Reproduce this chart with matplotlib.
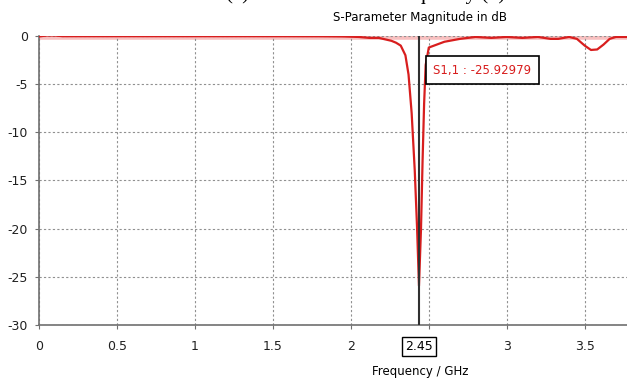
import matplotlib.pyplot as plt
import numpy as np

plt.rcParams['font.family'] = ['Liberation Sans Narrow', 'DejaVu Sans']

# S11 (GHz, dB)
freq = [0.0, 0.05, 0.1, 0.15, 0.3, 0.6, 1.0, 1.4, 1.8, 1.95, 2.05, 2.12, 2.18,
        2.22, 2.26, 2.29, 2.32, 2.35, 2.37, 2.39, 2.41, 2.425, 2.437, 2.45,
        2.46, 2.47, 2.48, 2.5, 2.55, 2.6, 2.7, 2.8, 2.9, 3.0, 3.1, 3.2, 3.28,
        3.33, 3.4, 3.45, 3.5, 3.54, 3.58, 3.62, 3.66, 3.7, 3.75, 3.8]
s11 = [-0.05, 0.05, 0.05, -0.02, -0.02, -0.02, -0.02, -0.02, -0.03, -0.05,
       -0.1, -0.2, -0.2, -0.35, -0.5, -0.7, -1.0, -2.0, -4.0, -8.0, -14.0,
       -20.0, -25.93, -20.0, -13.0, -7.0, -3.0, -1.2, -0.9, -0.6, -0.3, -0.1,
       -0.2, -0.1, -0.2, -0.1, -0.3, -0.3, -0.1, -0.3, -1.0, -1.45, -1.4,
       -0.9, -0.3, -0.1, -0.1, -0.1]

marker_f = 2.437
marker_txt = "S1,1 : -25.92979"
xticks = [0, 0.5, 1, 1.5, 2, 2.5, 3, 3.5]
xlabels = ["0", "0.5", "1", "1.5", "2", "", "3", "3.5"]
yticks = [0, -5, -10, -15, -20, -25, -30]

fig = plt.figure(figsize=(6.27, 3.82), dpi=100)
ax = fig.add_axes([0.0622, 0.1492, 0.94, 0.7566])

ax.axhline(-0.15, color='#f8c0c0', lw=4, zorder=1)
ax.plot(freq, s11, color='#d81e1e', lw=1.6, zorder=3)
ax.axvline(marker_f, color='#303030', lw=1.5, zorder=4)

ax.set_xlim(0, 3.78)
ax.set_ylim(-30, 0)
ax.set_xticks(xticks)
ax.set_xticklabels(xlabels)
ax.set_yticks(yticks)
ax.set_yticklabels([str(v) for v in yticks])
ax.grid(True, ls=(0, (2, 2)), color='#909090', lw=0.8)
ax.tick_params(labelsize=9, length=3, color='#707070', colors='#202020')
ax.tick_params(axis='x', pad=8)
ax.tick_params(axis='y', pad=5)

for s in ['top', 'right']:
    ax.spines[s].set_visible(False)
for s in ['left', 'bottom']:
    ax.spines[s].set_color('#707070')
    ax.spines[s].set_linewidth(1.2)

ax.text(marker_f, -32.2, "2.45", ha='center', va='center', fontsize=9,
        bbox=dict(boxstyle='square,pad=0.25', fc='white', ec='black', lw=1))
ax.text(2.53, -3.55, marker_txt, ha='left', va='center', fontsize=8.5,
        color='#d81e1e', zorder=5,
        bbox=dict(boxstyle='square,pad=0.65', fc='white', ec='black', lw=1.2))

fig.text(0.67, 0.955, "S-Parameter Magnitude in dB", ha='center', va='center', fontsize=8.5)
fig.text(0.67, 0.027, "Frequency / GHz", ha='center', va='center', fontsize=8.5)

# caption of the page, mostly cut off at the top (as in the reference)
fig.text(237 / 627, 1 + 1 / 382, "(b)", ha='center', va='baseline',
         fontsize=15, family='Liberation Serif')
fig.text(392 / 627, 1 + 1 / 382, "frequency (b)", ha='left', va='baseline',
         fontsize=15, family='Liberation Serif')

fig.savefig("out.png", dpi=100)
